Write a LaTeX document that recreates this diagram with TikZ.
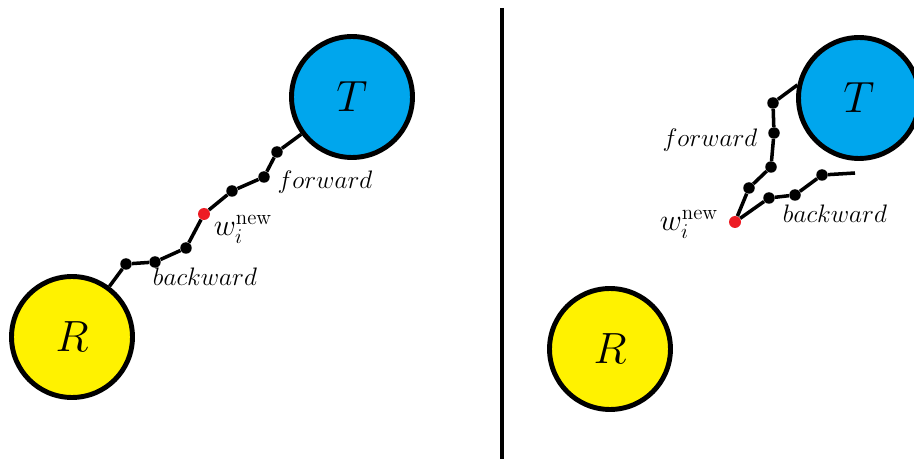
\documentclass[tikz,border=0pt]{standalone}
\usepackage{amsmath,amssymb}
\usepackage{tikz}
\usetikzlibrary{positioning}
\definecolor{tblue}{RGB}{0,166,237}
\definecolor{ryellow}{RGB}{255,242,0}
\definecolor{wred}{RGB}{237,28,36}

\begin{document}
\begin{tikzpicture}[x=0.02cm,y=-0.02cm,
    site/.style={circle,draw,line width=2.8pt,minimum size=2.42cm,inner sep=0pt,font=\fontsize{40}{46}\selectfont},
    walkdot/.style={circle,fill=black,inner sep=0pt,minimum size=0.23cm},
    newdot/.style={circle,fill=wred,inner sep=0pt,minimum size=0.24cm},
    walk/.style={line width=2pt},
    lab/.style={font=\fontsize{14}{17}\selectfont},
    wlab/.style={font=\fontsize{17}{20}\selectfont}]
    \useasboundingbox (0,0) rectangle (914,459);
    % left: the two walks meet
    \node[site,fill=tblue] (T) at (352,97) {$T$};
    \node[site,fill=ryellow] (R) at (72,337) {$R$};
    \node[newdot] (w) at (204,214) {};
    \node[walkdot] (f1) at (232,191) {};
    \node[walkdot] (f2) at (264,177) {};
    \node[walkdot] (f3) at (277,152) {};
    \node[walkdot] (b1) at (186,248) {};
    \node[walkdot] (b2) at (155,262) {};
    \node[walkdot] (b3) at (126,264) {};
    \draw[walk] (w) -- (f1) -- (f2) -- (f3) -- (T);
    \draw[walk] (w) -- (b1) -- (b2) -- (b3) -- (R);
    \node[lab] (fl) at (325,182) {$forward$};
    \node[lab] (bl) at (205,277) {$backward$};
    \node[wlab] (wl) at (243,229) {$w_i^{\text{new}}$};
    % divider
    \coordinate (top) at (502,8);
    \coordinate (bot) at (502,459);
    \draw[line width=2.6pt] (top) -- (bot);
    % right: both walks leave the new point
    \node[site,fill=tblue] (T2) at (859,98) {$T$};
    \node[site,fill=ryellow] (R2) at (610,349) {$R$};
    \node[newdot] (w2) at (735,222) {};
    \node[walkdot] (g1) at (749,188) {};
    \node[walkdot] (g2) at (771,167) {};
    \node[walkdot] (g3) at (774,133) {};
    \node[walkdot] (g4) at (773,103) {};
    \node[walkdot] (c1) at (769,198) {};
    \node[walkdot] (c2) at (795,195) {};
    \node[walkdot] (c3) at (822,175) {};
    \coordinate (cend) at (855,173);
    \draw[walk] (w2) -- (g1) -- (g2) -- (g3) -- (g4) -- (T2.168);
    \draw[walk] (w2) -- (c1) -- (c2) -- (c3) -- (cend);
    \node[lab] (fl2) at (710,140) {$forward$};
    \node[lab] (bl2) at (835,214) {$backward$};
    \node[wlab] (wl2) at (689,224) {$w_i^{\text{new}}$};
\end{tikzpicture}
\end{document}
